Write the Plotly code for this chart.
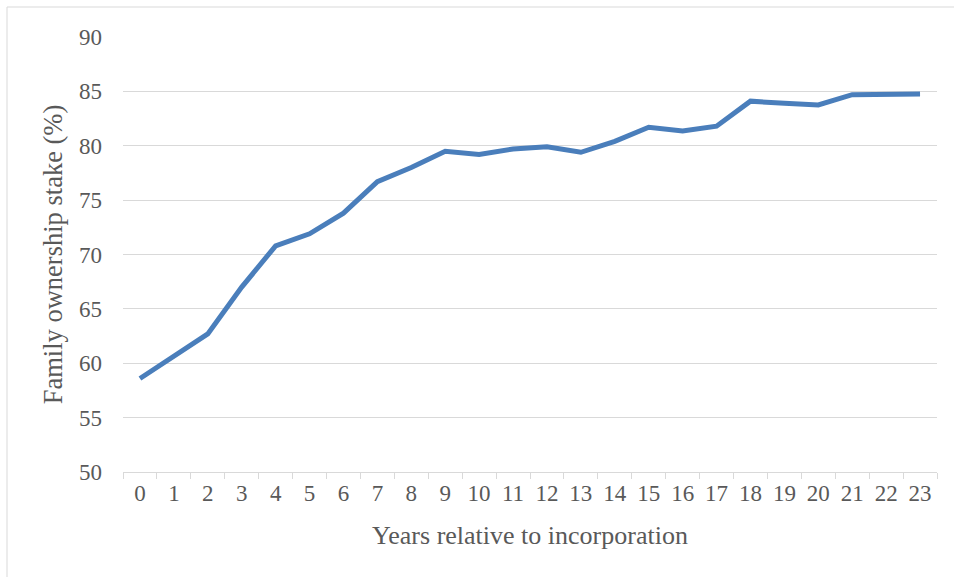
import plotly.graph_objects as go

years = [str(i) for i in range(24)]
stake = [58.6, 60.7, 62.7, 67.0, 70.8, 71.9, 73.8, 76.7, 78.0, 79.5, 79.2, 79.7,
         79.9, 79.4, 80.4, 81.7, 81.35, 81.8, 84.1, 83.9, 83.75, 84.7, 84.7, 84.75]
y_ticks = [50, 55, 60, 65, 70, 75, 80, 85, 90]

FONT = "Liberation Serif, Times New Roman, serif"
TXT = "#595959"

fig = go.Figure()
fig.add_trace(go.Scatter(x=years, y=stake, mode="lines",
                         line=dict(color="#4a7ebb", width=5), showlegend=False))

fig.update_layout(
    width=954, height=577,
    margin=dict(l=123, r=17, t=37, b=105),
    paper_bgcolor="white", plot_bgcolor="white",
    font=dict(family=FONT, size=23, color=TXT),
    xaxis=dict(type="category", range=[-0.5, 23.5], tickson="boundaries", ticks="outside", ticklen=6,
               tickcolor="#d9d9d9", showline=True, linecolor="#d9d9d9", linewidth=1,
               showgrid=False, tickfont=dict(size=23, color=TXT),
               title=dict(text="Years relative to incorporation", font=dict(size=26, color=TXT), standoff=21)),
    yaxis=dict(range=[50, 90], tickvals=y_ticks, showgrid=True, gridcolor="#d9d9d9",
               gridwidth=1, zeroline=False, showline=False, ticks="",
               ticklabelstandoff=20, tickfont=dict(size=23, color=TXT),
               title=dict(text="Family ownership stake (%)", font=dict(size=26.5, color=TXT), standoff=8)),
    shapes=[dict(type="rect", xref="paper", yref="paper",
                 x0=-116/814, x1=(960-123)/814, y0=-(590-472)/435, y1=(472-7)/435,
                 line=dict(color="#d9d9d9", width=1), fillcolor="rgba(0,0,0,0)", layer="below")],
)

fig.write_html("out.html", config={"displayModeBar": False})
with open("out.html", encoding="utf-8") as f:
    html = f.read()
html = html.replace("<head>", "<head><style>html,body{margin:0;padding:0;overflow:hidden}</style>", 1)
with open("out.html", "w", encoding="utf-8") as f:
    f.write(html)
